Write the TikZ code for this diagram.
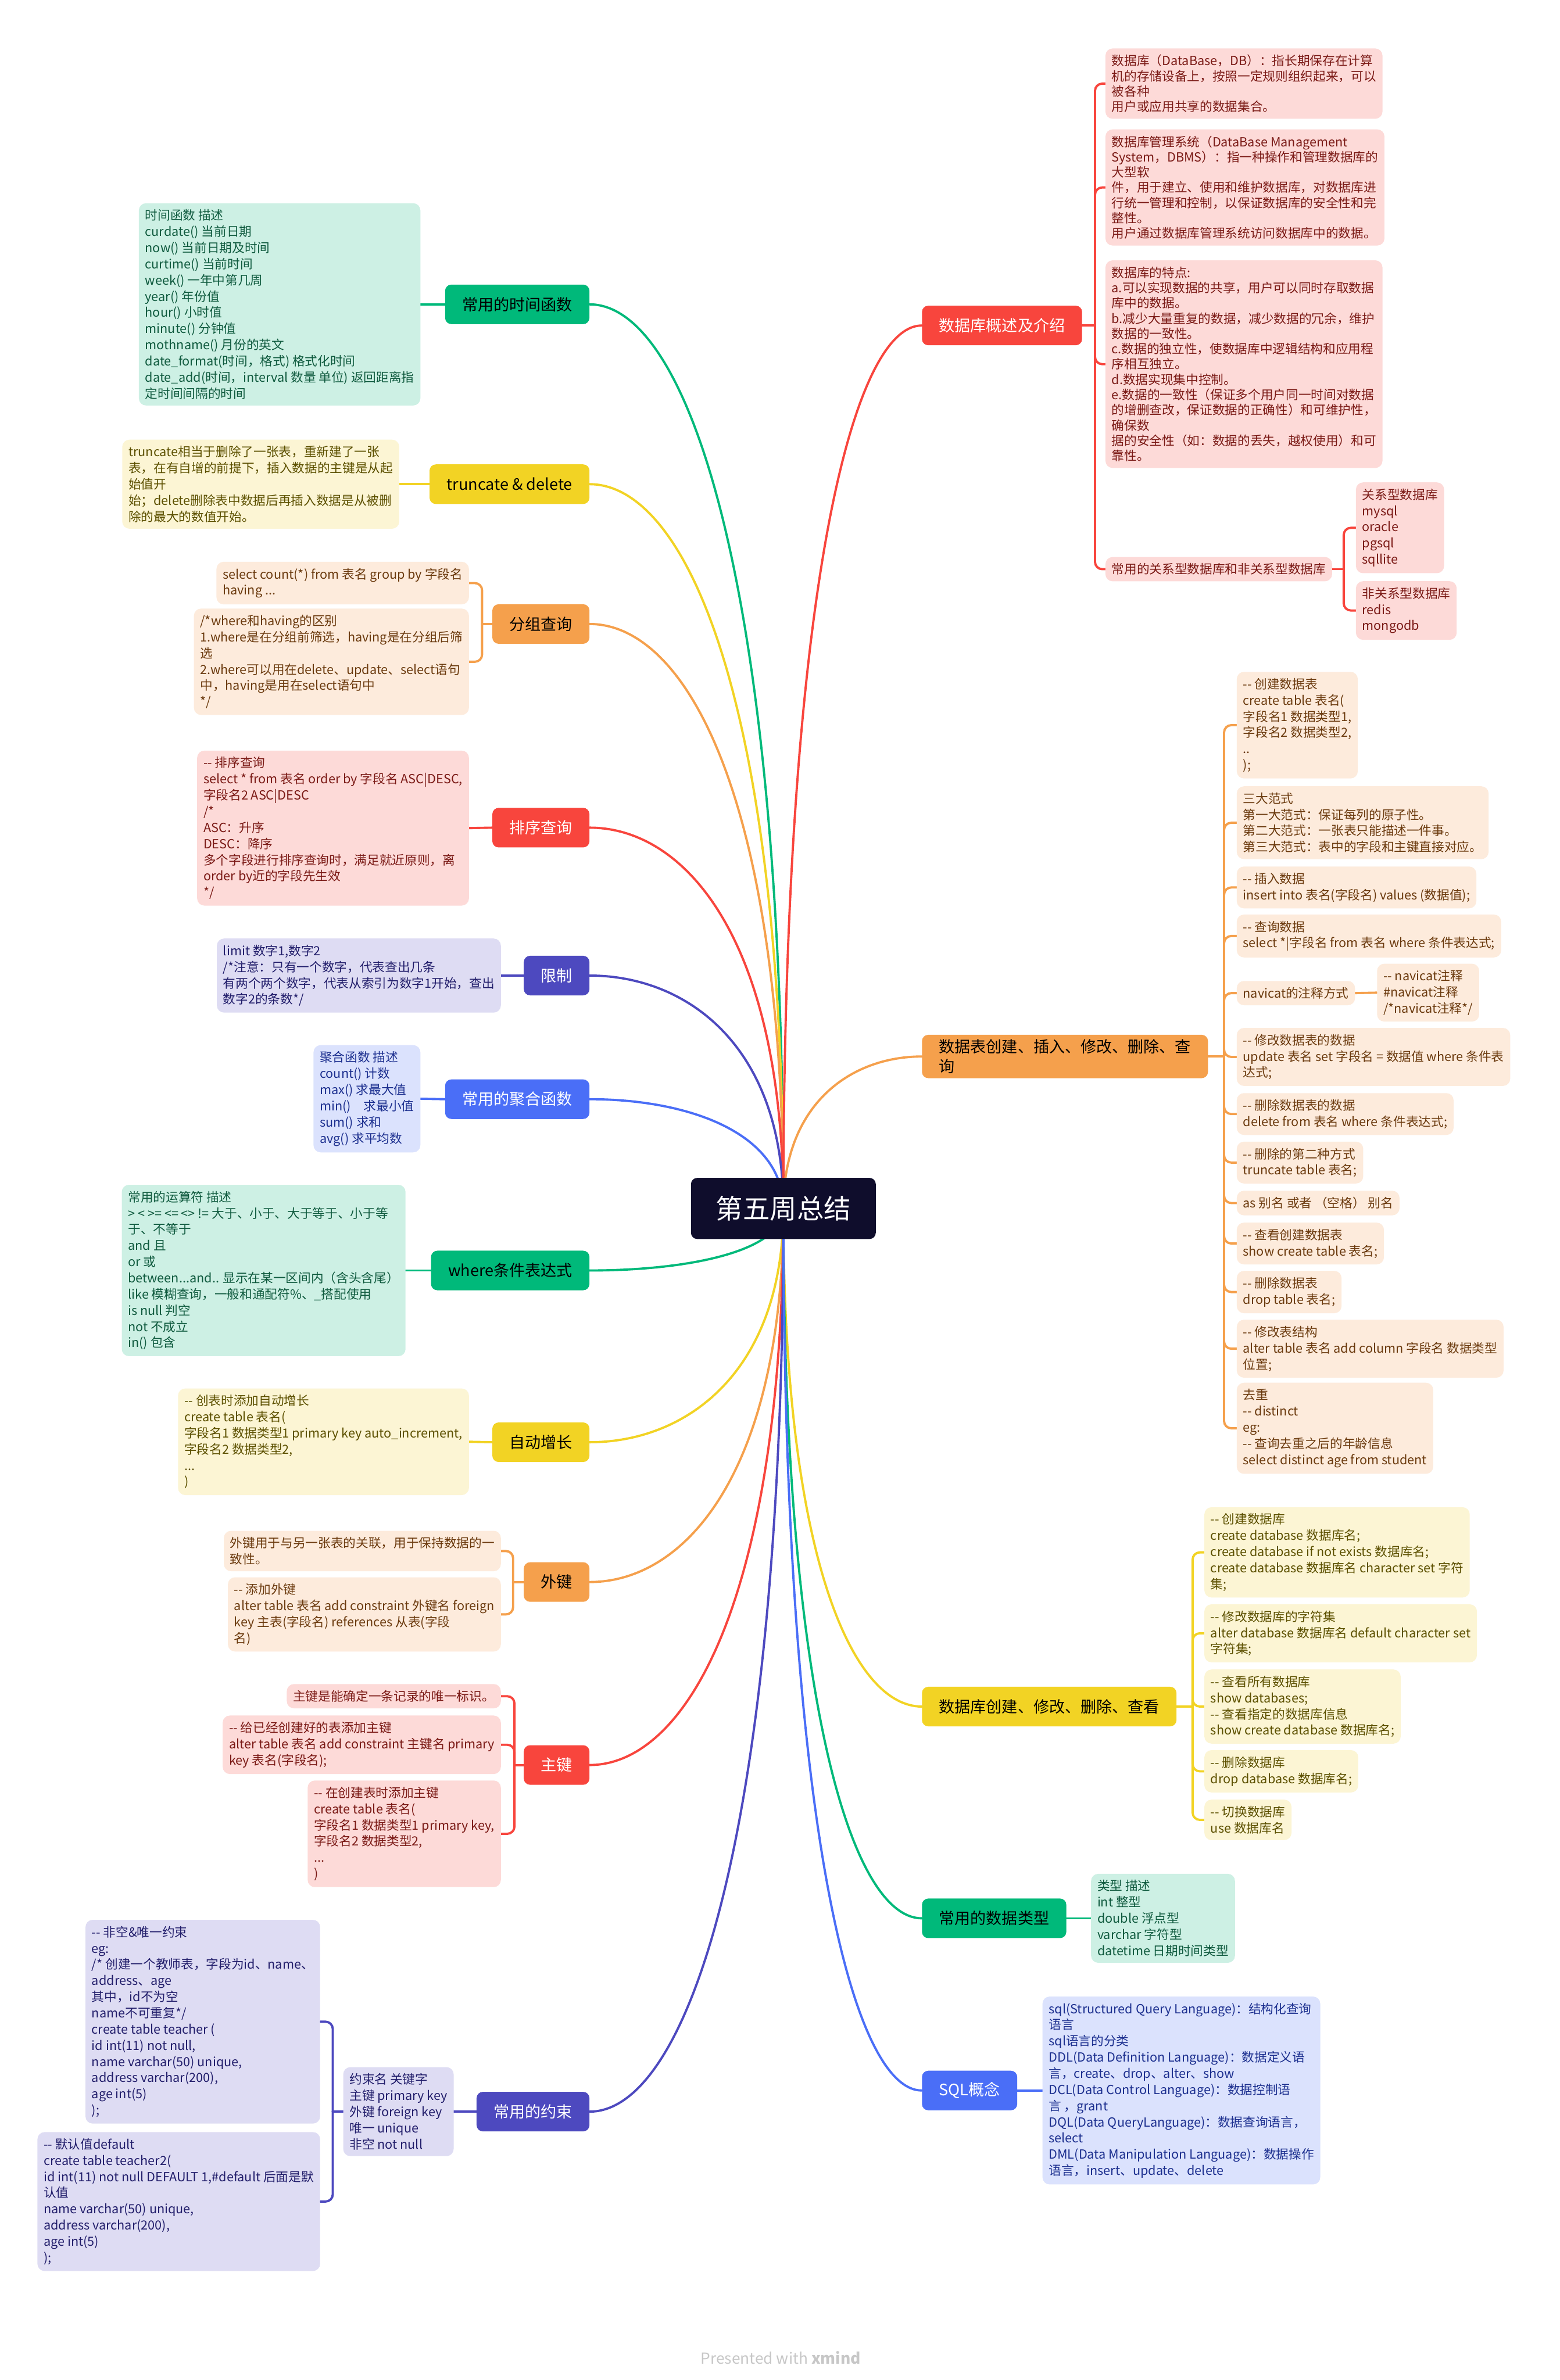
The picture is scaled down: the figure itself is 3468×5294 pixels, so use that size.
\documentclass[tikz,border=0pt]{standalone}
\usepackage{fontspec}
\setmainfont{Noto Sans CJK SC}[Ligatures=TeXOff]
\usetikzlibrary{calc}
\definecolor{gM}{HTML}{00B97A}\definecolor{gL}{HTML}{CDF0E4}\definecolor{gT}{HTML}{0F5A3E}
\definecolor{yM}{HTML}{F2D324}\definecolor{yL}{HTML}{FCF5D4}\definecolor{yT}{HTML}{5C5000}
\definecolor{oM}{HTML}{F5A04C}\definecolor{oL}{HTML}{FDEBDC}\definecolor{oT}{HTML}{6B3A0E}
\definecolor{rM}{HTML}{F8453D}\definecolor{rL}{HTML}{FDDAD8}\definecolor{rT}{HTML}{7B1A16}
\definecolor{iM}{HTML}{4D49BF}\definecolor{iL}{HTML}{DEDCF3}\definecolor{iT}{HTML}{221E6B}
\definecolor{bM}{HTML}{4A6EF7}\definecolor{bL}{HTML}{DBE2FD}\definecolor{bT}{HTML}{1C2F8F}
\definecolor{cN}{HTML}{0F0D2C}
\pgfdeclarelayer{back}\pgfdeclarelayer{lines}\pgfsetlayers{back,lines,main}
\tikzset{
 topic/.style={rounded corners=14, minimum height=88, inner xsep=38, inner ysep=10, align=left, font=\fontsize{35}{44}\selectfont},
 sub/.style={rounded corners=16, inner xsep=14, inner ysep=14, align=left, font=\fontsize{28}{36}\selectfont},
 sub34/.style={sub, font=\fontsize{28}{34}\selectfont},
 gsub/.style={fill=gL, text=gT}, ysub/.style={fill=yL, text=yT}, osub/.style={fill=oL, text=oT},
 rsub/.style={fill=rL, text=rT}, isub/.style={fill=iL, text=iT}, bsub/.style={fill=bL, text=bT},
 conn/.style={line width=5, line cap=round},
}
\newcommand\lcurve[2]{\draw[conn,#1] let \p1=(c.center), \p2=(#2.east) in (\p1) .. controls (\x1,{\y2+0.3*(\y1-\y2)}) and ({\x2+0.5*(\x1-\x2)},\y2) .. (\p2);}
\newcommand\rcurve[2]{\draw[conn,#1] let \p1=(c.center), \p2=(#2.west) in (\p1) .. controls (\x1,{\y2+0.3*(\y1-\y2)}) and ({\x2+0.5*(\x1-\x2)},\y2) .. (\p2);}
\newcommand\brl[3]{\draw[conn,#1,rounded corners=16] (#2) |- (#3.east);}
\newcommand\brr[3]{\draw[conn,#1,rounded corners=16] (#2) |- (#3.west);}
\begin{document}
\begin{tikzpicture}[x=1pt,y=-1pt]
\begin{pgfonlayer}{back}
\fill[white] (0,0) rectangle (3468,5294);
\end{pgfonlayer}
\useasboundingbox (0,0) rectangle (3468,5294);

% center
\node[rounded corners=14, fill=cN, text=white, minimum width=411, minimum height=136, font=\fontsize{60}{70}\selectfont] (c) at (1742,2688) {第五周总结};

% ---------- left main topics ----------
\node[topic, fill=gM, text=black, anchor=east] (t1) at (1311,677) {常用的时间函数};
\node[topic, fill=yM, text=black, anchor=east] (t2) at (1311,1077) {truncate \& delete};
\node[topic, fill=oM, text=black, anchor=east] (t3) at (1311,1388) {分组查询};
\node[topic, fill=rM, text=white, anchor=east] (t4) at (1311,1841) {排序查询};
\node[topic, fill=iM, text=white, anchor=east] (t5) at (1311,2170) {限制};
\node[topic, fill=bM, text=white, anchor=east] (t6) at (1311,2445) {常用的聚合函数};
\node[topic, fill=gM, text=black, anchor=east] (t7) at (1311,2826) {where条件表达式};
\node[topic, fill=yM, text=black, anchor=east] (t8) at (1311,3208) {自动增长};
\node[topic, fill=oM, text=black, anchor=east] (t9) at (1311,3519) {外键};
\node[topic, fill=rM, text=white, anchor=east] (t10) at (1311,3926) {主键};
\node[topic, fill=iM, text=white, anchor=east] (t11) at (1311,4697) {常用的约束};

% ---------- right main topics ----------
\node[topic, fill=rM, text=white, anchor=west] (r1) at (2050,724) {数据库概述及介绍};
\node[topic, fill=oM, text=black, anchor=west] (r2) at (2050,2350) {数据表创建、插入、修改、删除、查\\询};
\node[topic, fill=yM, text=black, anchor=west] (r3) at (2050,3796) {数据库创建、修改、删除、查看};
\node[topic, fill=gM, text=black, anchor=west] (r4) at (2050,4267) {常用的数据类型};
\node[topic, fill=bM, text=white, anchor=west] (r5) at (2050,4650) {SQL概念};

% ---------- left children ----------
\node[sub,gsub,anchor=east] (t1a) at (935,677) {时间函数 描述\\curdate() 当前日期\\now() 当前日期及时间\\curtime() 当前时间\\week() 一年中第几周\\year() 年份值\\hour() 小时值\\minute() 分钟值\\mothname() 月份的英文\\date\_format(时间，格式) 格式化时间\\date\_add(时间，interval 数量 单位) 返回距离指\\定时间间隔的时间};
\node[sub,ysub,anchor=east] (t2a) at (888,1077) {truncate相当于删除了一张表，重新建了一张\\表，在有自增的前提下，插入数据的主键是从起\\始值开\\始；delete删除表中数据后再插入数据是从被删\\除的最大的数值开始。};
\node[sub,osub,anchor=east] (t3a) at (1043,1297) {select count(*) from 表名 group by 字段名\\having ...};
\node[sub,osub,anchor=east] (t3b) at (1043,1472) {/*where和having的区别\\1.where是在分组前筛选，having是在分组后筛\\选\\2.where可以用在delete、update、select语句\\中，having是用在select语句中\\*/};
\node[sub,rsub,anchor=east] (t4a) at (1043,1842) {-- 排序查询\\select * from 表名 order by 字段名 ASC|DESC,\\字段名2 ASC|DESC\\/*\\ASC：升序\\DESC：降序\\多个字段进行排序查询时，满足就近原则，离\\order by近的字段先生效\\*/};
\node[sub,isub,anchor=east] (t5a) at (1114,2170) {limit 数字1,数字2\\/*注意：只有一个数字，代表查出几条\\有两个两个数字，代表从索引为数字1开始，查出\\数字2的条数*/};
\node[sub,bsub,anchor=east] (t6a) at (935,2444) {聚合函数 描述\\count() 计数\\max() 求最大值\\min()　求最小值\\sum() 求和\\avg() 求平均数};
\node[sub,gsub,anchor=east] (t7a) at (902,2826) {常用的运算符 描述\\> < >= <= <> != 大于、小于、大于等于、小于等\\于、不等于\\and 且\\or 或\\between...and.. 显示在某一区间内（含头含尾）\\like 模糊查询，一般和通配符\%、\_搭配使用\\is null 判空\\not 不成立\\in() 包含};
\node[sub,ysub,anchor=east] (t8a) at (1043,3207) {-- 创表时添加自动增长\\create table 表名(\\字段名1 数据类型1 primary key auto\_increment,\\字段名2 数据类型2,\\...\\)};
\node[sub,osub,anchor=east] (t9a) at (1114,3450) {外键用于与另一张表的关联，用于保持数据的一\\致性。};
\node[sub,osub,anchor=east] (t9b) at (1114,3591) {-- 添加外键\\alter table 表名 add constraint 外键名 foreign\\key 主表(字段名) references 从表(字段\\名)};
\node[sub,rsub,anchor=east] (t10a) at (1114,3773) {主键是能确定一条记录的唯一标识。};
\node[sub,rsub,anchor=east] (t10b) at (1114,3881) {-- 给已经创建好的表添加主键\\alter table 表名 add constraint 主键名 primary\\key 表名(字段名);};
\node[sub,rsub,anchor=east] (t10c) at (1114,4079) {-- 在创建表时添加主键\\create table 表名(\\字段名1 数据类型1 primary key,\\字段名2 数据类型2,\\...\\)};
\node[sub,isub,anchor=east] (t11k) at (1009,4697) {约束名 关键字\\主键 primary key\\外键 foreign key\\唯一 unique\\非空 not null};
\node[sub,isub,anchor=east] (t11a) at (712,4497) {-- 非空\&唯一约束\\eg:\\/* 创建一个教师表，字段为id、name、\\address、age\\其中，id不为空\\name不可重复*/\\create table teacher (\\id int(11) not null,\\name varchar(50) unique,\\address varchar(200),\\age int(5)\\);};
\node[sub,isub,anchor=east] (t11b) at (712,4897) {-- 默认值default\\create table teacher2(\\id int(11) not null DEFAULT 1,\#default 后面是默\\认值\\name varchar(50) unique,\\address varchar(200),\\age int(5)\\);};

% ---------- right children ----------
\node[sub34,rsub,anchor=west] (r1a) at (2458,186) {数据库（DataBase，DB）：指长期保存在计算\\机的存储设备上，按照一定规则组织起来，可以\\被各种\\用户或应用共享的数据集合。};
\node[sub34,rsub,anchor=west] (r1b) at (2458,417) {数据库管理系统（DataBase Management\\System，DBMS）：指一种操作和管理数据库的\\大型软\\件，用于建立、使用和维护数据库，对数据库进\\行统一管理和控制，以保证数据库的安全性和完\\整性。\\用户通过数据库管理系统访问数据库中的数据。};
\node[sub34,rsub,anchor=west] (r1c) at (2458,810) {数据库的特点:\\a.可以实现数据的共享，用户可以同时存取数据\\库中的数据。\\b.减少大量重复的数据，减少数据的冗余，维护\\数据的一致性。\\c.数据的独立性，使数据库中逻辑结构和应用程\\序相互独立。\\d.数据实现集中控制。\\e.数据的一致性（保证多个用户同一时间对数据\\的增删查改，保证数据的正确性）和可维护性，\\确保数\\据的安全性（如：数据的丢失，越权使用）和可\\靠性。};
\node[sub,rsub,anchor=west] (r1d) at (2458,1266) {常用的关系型数据库和非关系型数据库};
\node[sub,rsub,anchor=west] (r1d1) at (3015,1174) {关系型数据库\\mysql\\oracle\\pgsql\\sqllite};
\node[sub,rsub,anchor=west] (r1d2) at (3015,1358) {非关系型数据库\\redis\\mongodb};

\node[sub,osub,anchor=west] (r2a) at (2750,1613) {-- 创建数据表\\create table 表名(\\字段名1 数据类型1,\\字段名2 数据类型2,\\..\\);};
\node[sub,osub,anchor=west] (r2b) at (2750,1830) {三大范式\\第一大范式：保证每列的原子性。\\第二大范式：一张表只能描述一件事。\\第三大范式：表中的字段和主键直接对应。};
\node[sub,osub,anchor=west] (r2c) at (2750,1974) {-- 插入数据\\insert into 表名(字段名) values (数据值);};
\node[sub,osub,anchor=west] (r2d) at (2750,2082) {-- 查询数据\\select *|字段名 from 表名 where 条件表达式;};
\node[sub,osub,anchor=west] (r2e) at (2750,2209) {navicat的注释方式};
\node[sub,osub,anchor=west] (r2e1) at (3062,2208) {-- navicat注释\\\#navicat注释\\/*navicat注释*/};
\node[sub,osub,anchor=west] (r2f) at (2750,2351) {-- 修改数据表的数据\\update 表名 set 字段名 = 数据值 where 条件表\\达式;};
\node[sub,osub,anchor=west] (r2g) at (2750,2478) {-- 删除数据表的数据\\delete from 表名 where 条件表达式;};
\node[sub,osub,anchor=west] (r2h) at (2750,2586) {-- 删除的第二种方式\\truncate table 表名;};
\node[sub,osub,anchor=west] (r2i) at (2750,2676) {as 别名 或者 （空格） 别名};
\node[sub,osub,anchor=west] (r2j) at (2750,2766) {-- 查看创建数据表\\show create table 表名;};
\node[sub,osub,anchor=west] (r2k) at (2750,2874) {-- 删除数据表\\drop table 表名;};
\node[sub,osub,anchor=west] (r2l) at (2750,3000) {-- 修改表结构\\alter table 表名 add column 字段名 数据类型\\位置;};
\node[sub,osub,anchor=west] (r2m) at (2750,3177) {去重\\-- distinct\\eg:\\-- 查询去重之后的年龄信息\\select distinct age from student};

\node[sub,ysub,anchor=west] (r3a) at (2678,3453) {-- 创建数据库\\create database 数据库名;\\create database if not exists 数据库名;\\create database 数据库名 character set 字符\\集;};
\node[sub,ysub,anchor=west] (r3b) at (2678,3633) {-- 修改数据库的字符集\\alter database 数据库名 default character set\\字符集;};
\node[sub,ysub,anchor=west] (r3c) at (2678,3796) {-- 查看所有数据库\\show databases;\\-- 查看指定的数据库信息\\show create database 数据库名;};
\node[sub,ysub,anchor=west] (r3d) at (2678,3940) {-- 删除数据库\\drop database 数据库名;};
\node[sub,ysub,anchor=west] (r3e) at (2678,4048) {-- 切换数据库\\use 数据库名};

\node[sub,gsub,anchor=west] (r4a) at (2426,4267) {类型 描述\\int 整型\\double 浮点型\\varchar 字符型\\datetime 日期时间类型};
\node[sub,bsub,anchor=west] (r5a) at (2318,4650) {sql(Structured Query Language)：结构化查询\\语言\\sql语言的分类\\DDL(Data Definition Language)：数据定义语\\言，create、drop、alter、show\\DCL(Data Control Language)：数据控制语\\言 ，grant\\DQL(Data QueryLanguage)：数据查询语言，\\select\\DML(Data Manipulation Language)：数据操作\\语言，insert、update、delete};

\node[text=black!22, font=\fontsize{34}{40}\selectfont] (ft) at (1736,5245) {Presented with \textbf{xmind}};

% junctions
\coordinate (j3) at (1072,1388);
\coordinate (j9) at (1141,3519);
\coordinate (j10) at (1144,3926);
\coordinate (j11) at (740,4697);
\coordinate (k1) at (2435,724);
\coordinate (k1d) at (2988,1266);
\coordinate (k2) at (2722,2350);
\coordinate (k3) at (2652,3796);

\begin{pgfonlayer}{lines}
\lcurve{gM}{t1}\lcurve{yM}{t2}\lcurve{oM}{t3}\lcurve{rM}{t4}\lcurve{iM}{t5}\lcurve{bM}{t6}
\lcurve{gM}{t7}\lcurve{yM}{t8}\lcurve{oM}{t9}\lcurve{rM}{t10}\lcurve{iM}{t11}
\rcurve{rM}{r1}\rcurve{oM}{r2}\rcurve{yM}{r3}\rcurve{gM}{r4}\rcurve{bM}{r5}
% left single links
\draw[conn,gM] (t1.west) -- (t1a.east);
\draw[conn,yM] (t2.west) -- (t2a.east);
\draw[conn,rM] (t4.west) -- (t4a.east);
\draw[conn,iM] (t5.west) -- (t5a.east);
\draw[conn,bM] (t6.west) -- (t6a.east);
\draw[conn,gM] (t7.west) -- (t7a.east);
\draw[conn,yM] (t8.west) -- (t8a.east);
\draw[conn,iM] (t11.west) -- (t11k.east);
% left brackets
\draw[conn,oM] (t3.west) -- (j3); \brl{oM}{j3}{t3a}\brl{oM}{j3}{t3b}
\draw[conn,oM] (t9.west) -- (j9); \brl{oM}{j9}{t9a}\brl{oM}{j9}{t9b}
\draw[conn,rM] (t10.west) -- (j10); \brl{rM}{j10}{t10a}\brl{rM}{j10}{t10b}\brl{rM}{j10}{t10c}
\draw[conn,iM] (t11k.west) -- (j11); \brl{iM}{j11}{t11a}\brl{iM}{j11}{t11b}
% right
\draw[conn,rM] (r1.east) -- (k1); \brr{rM}{k1}{r1a}\brr{rM}{k1}{r1b}\brr{rM}{k1}{r1c}\brr{rM}{k1}{r1d}
\draw[conn,rM] (r1d.east) -- (k1d); \brr{rM}{k1d}{r1d1}\brr{rM}{k1d}{r1d2}
\draw[conn,oM] (r2.east) -- (k2);
\brr{oM}{k2}{r2a}\brr{oM}{k2}{r2b}\brr{oM}{k2}{r2c}\brr{oM}{k2}{r2d}\brr{oM}{k2}{r2e}\brr{oM}{k2}{r2f}\brr{oM}{k2}{r2g}
\brr{oM}{k2}{r2h}\brr{oM}{k2}{r2i}\brr{oM}{k2}{r2j}\brr{oM}{k2}{r2k}\brr{oM}{k2}{r2l}\brr{oM}{k2}{r2m}
\draw[conn,oM] (r2e.east) -- (r2e1.west);
\draw[conn,yM] (r3.east) -- (k3); \brr{yM}{k3}{r3a}\brr{yM}{k3}{r3b}\brr{yM}{k3}{r3c}\brr{yM}{k3}{r3d}\brr{yM}{k3}{r3e}
\draw[conn,gM] (r4.east) -- (r4a.west);
\draw[conn,bM] (r5.east) -- (r5a.west);
\end{pgfonlayer}
\end{tikzpicture}
\end{document}
